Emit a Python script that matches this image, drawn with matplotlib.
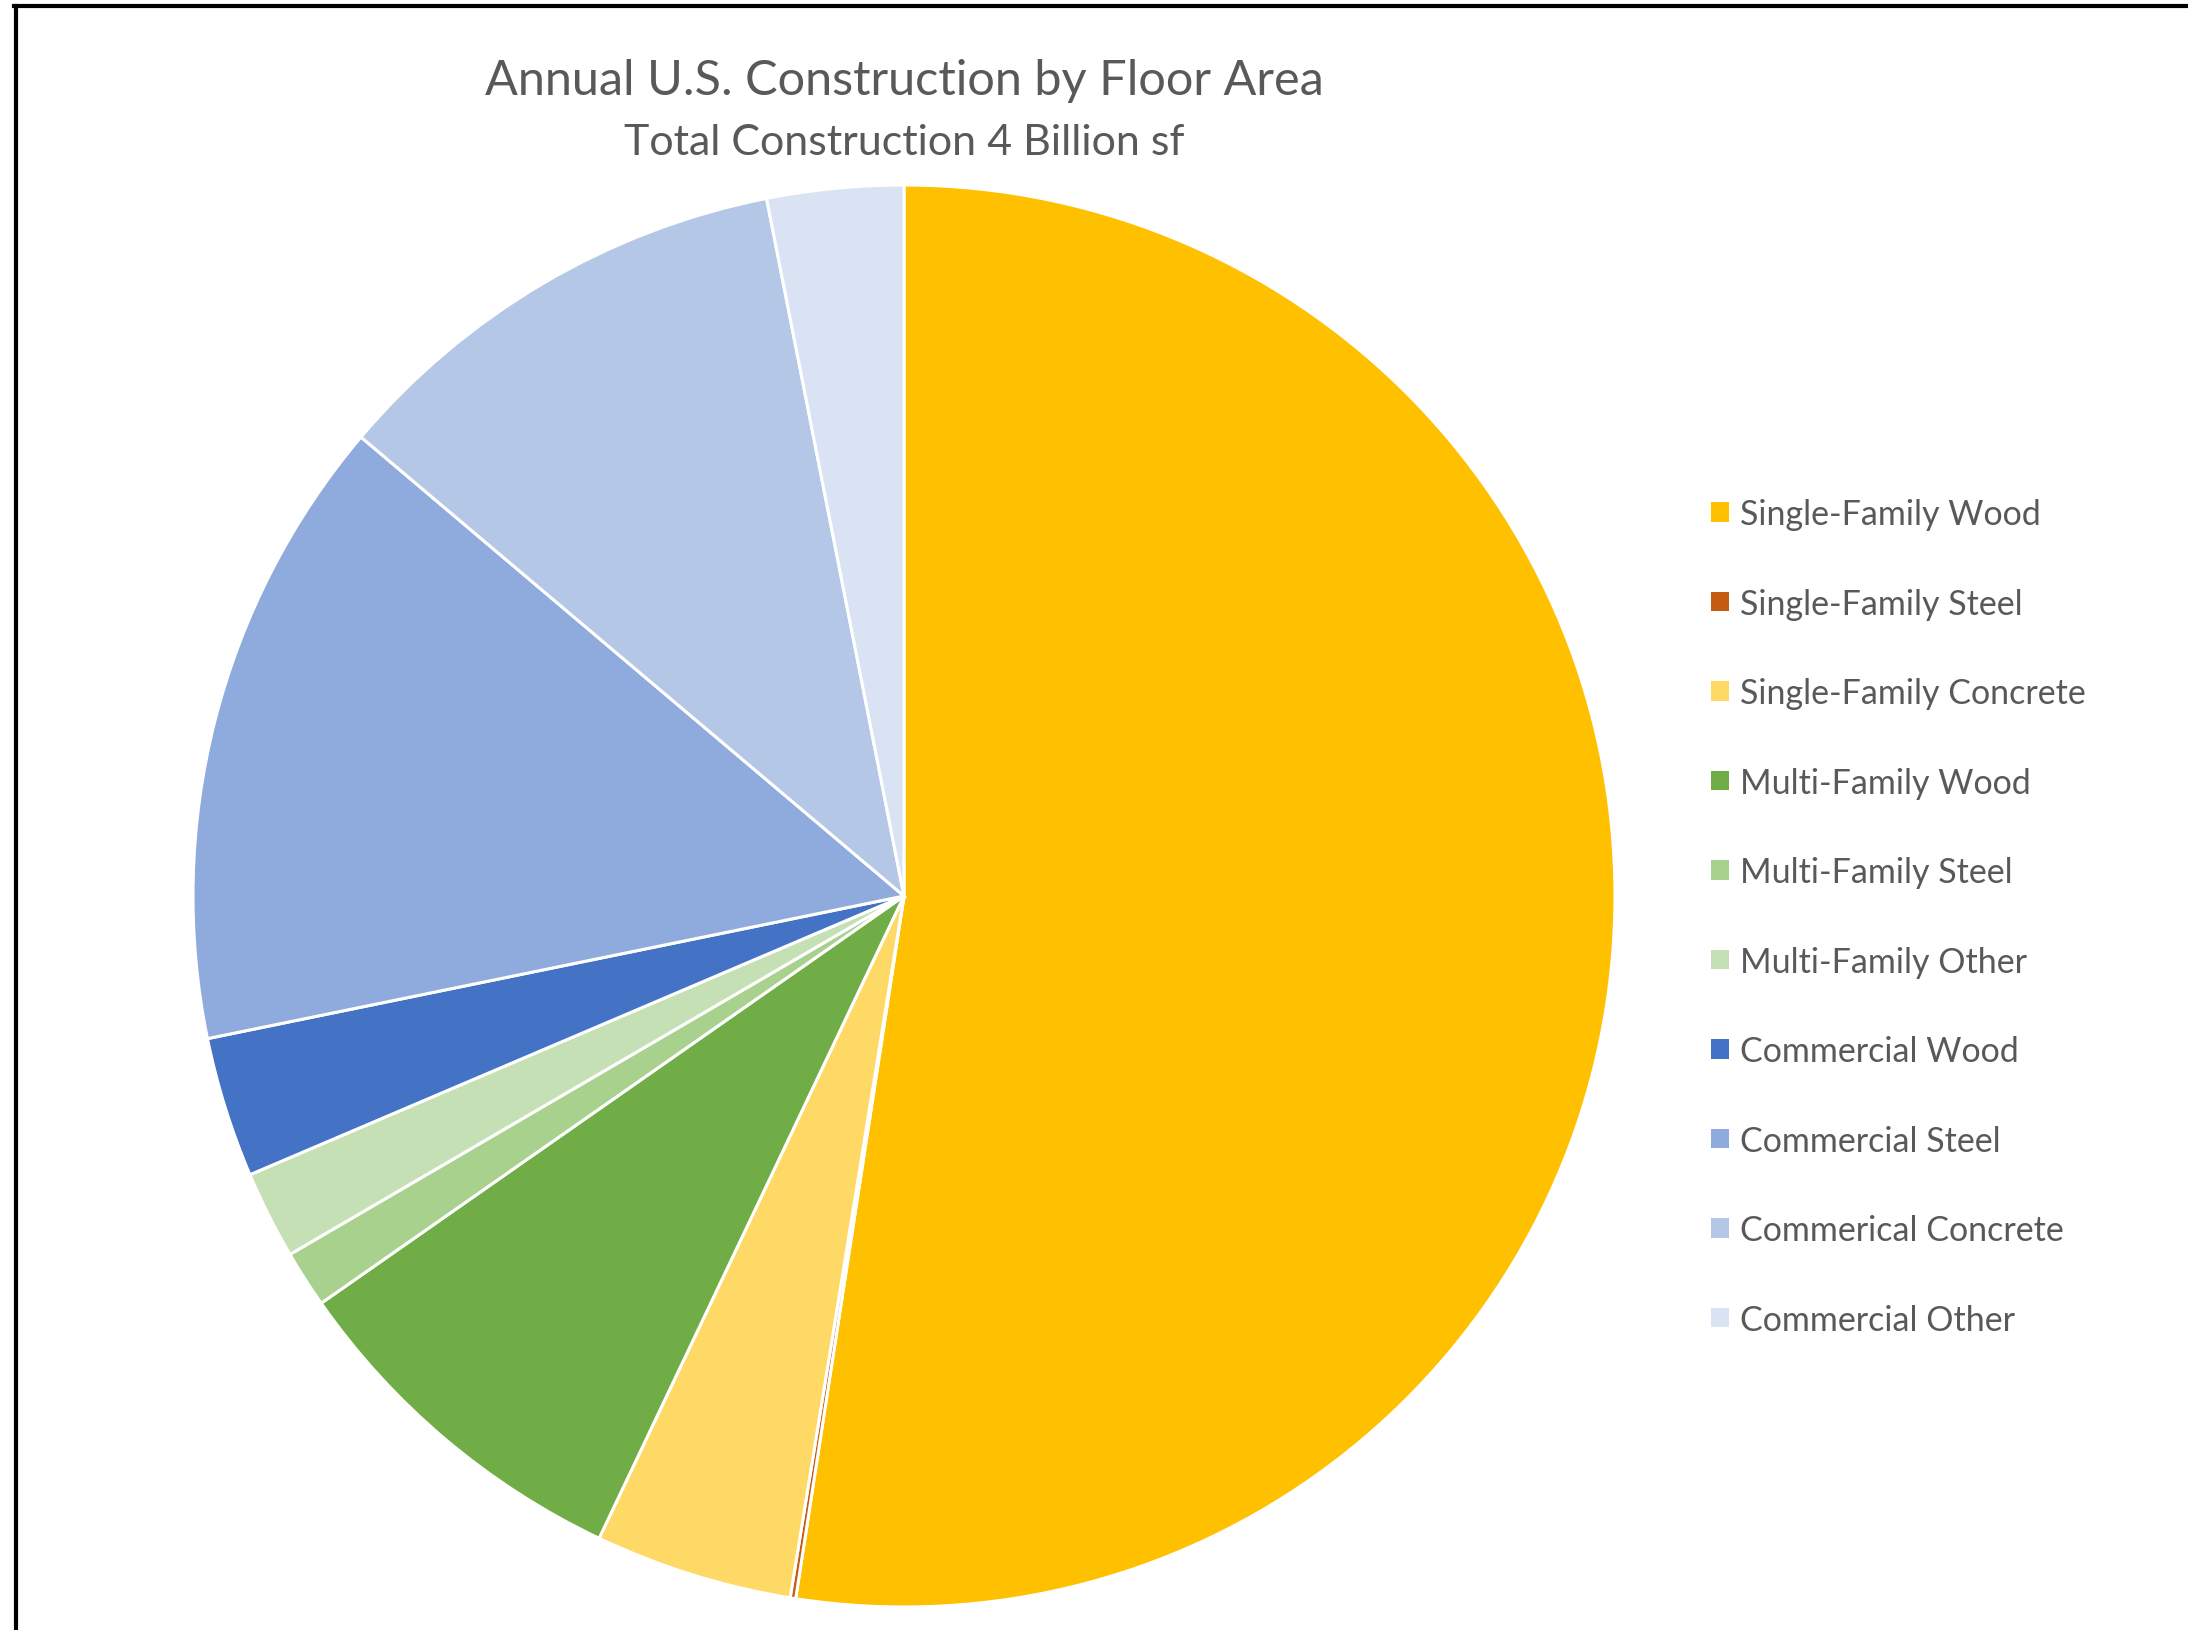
import matplotlib
matplotlib.use("Agg")
import matplotlib.pyplot as plt
from matplotlib.lines import Line2D
from matplotlib.patches import Patch

# data (billion sf)
categories = ["Single-Family Wood", "Single-Family Steel", "Single-Family Concrete",
              "Multi-Family Wood", "Multi-Family Steel", "Multi-Family Other",
              "Commercial Wood", "Commercial Steel", "Commerical Concrete",
              "Commercial Other"]
values = [2.10, 0.005, 0.18, 0.33, 0.052, 0.08, 0.128, 0.576, 0.43, 0.124]
colors = ["#FFC000", "#C55A11", "#FFD966", "#70AD47", "#A9D18E", "#C5E0B4",
          "#4472C4", "#8FAADC", "#B4C7E7", "#DAE3F3"]

W, H = 2188, 1631
fig = plt.figure(figsize=(W / 100, H / 100), dpi=100, facecolor="white")
plt.rcParams['font.family'] = ['Lato', 'DejaVu Sans']
text_col = "#595959"

# pie axes: centre (904, 897) px, radius 711 px
cx, cy, r = 904, 897, 711
ax = fig.add_axes([(cx - r) / W, (H - cy - r) / H, 2 * r / W, 2 * r / H])
wedges, _ = ax.pie(values, colors=colors, startangle=90, counterclock=False,
                   wedgeprops=dict(edgecolor="white", linewidth=2.2))
ax.set_xlim(-1, 1)
ax.set_ylim(-1, 1)
ax.set_aspect("equal")
ax.axis("off")

fig.text(cx / W, 1 - 81 / H, "Annual U.S. Construction by Floor Area",
         ha="center", va="center", fontsize=35, color=text_col)
fig.text(cx / W, 1 - 143 / H, "Total Construction 4 Billion sf",
         ha="center", va="center", fontsize=31, color=text_col)

# legend
handles = [Patch(facecolor=c, edgecolor="none") for c in colors]
leg = fig.legend(handles, categories, loc="upper left",
                 bbox_to_anchor=(1711 / W, 1 - 499 / H), frameon=False,
                 borderpad=0, borderaxespad=0,
                 fontsize=24.5, labelcolor=text_col, handlelength=0.52,
                 handleheight=0.52, handletextpad=0.33, labelspacing=1.69)

# chart border (top and left edges visible, runs off right and bottom)
fig.add_artist(Line2D([16 / W, 16 / W], [0, 1 - 7 / H], color="black", lw=3,
                      transform=fig.transFigure))
fig.add_artist(Line2D([14 / W, 1], [1 - 7 / H, 1 - 7 / H], color="black", lw=3,
                      transform=fig.transFigure))

fig.savefig("out.png", dpi=100, facecolor="white")
